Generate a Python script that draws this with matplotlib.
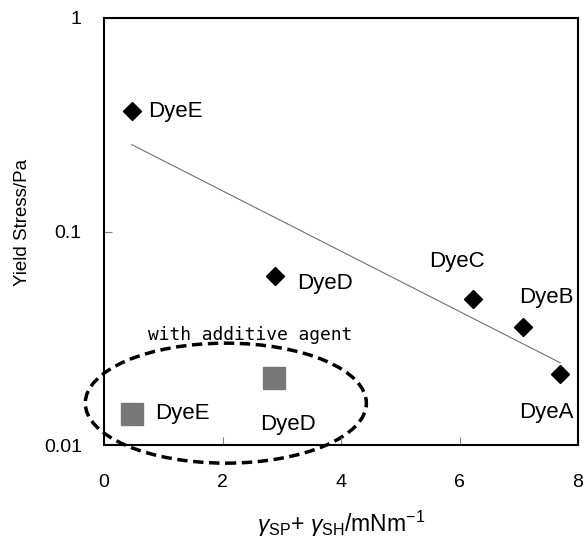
import numpy as np
import matplotlib
matplotlib.use("Agg")
from matplotlib import pyplot as plt
from matplotlib.patches import Ellipse

plt.rcParams['font.family'] = ['Liberation Sans', 'DejaVu Sans']
plt.rcParams['mathtext.fontset'] = 'custom'
plt.rcParams['mathtext.rm'] = 'Liberation Sans'
plt.rcParams['mathtext.it'] = 'Liberation Sans:italic'

# Dyes without additive (black diamonds)
dyes = ['DyeE', 'DyeD', 'DyeC', 'DyeB', 'DyeA']
gamma = np.array([0.47, 2.89, 6.23, 7.07, 7.70])
stress = np.array([0.366, 0.0618, 0.0483, 0.0357, 0.0215])

# With additive agent (gray squares)
add_dyes = ['DyeE', 'DyeD']
add_gamma = np.array([0.47, 2.87])
add_stress = np.array([0.0140, 0.0205])

# label offsets in points (dx, dy, ha)
offs = {'DyeE': (12, 0, 'left'), 'DyeD': (16, -5, 'left'), 'DyeC': (-12, 27, 'center'),
        'DyeB': (17, 21, 'center'), 'DyeA': (-10, -28, 'center')}
add_offs = {'DyeE': (17, 0, 'left'), 'DyeD': (10, -33, 'center')}

# exponential trend line
k, b = np.polyfit(gamma, np.log10(stress), 1)
xs = np.linspace(gamma.min(), gamma.max(), 50)
ys = 10 ** (k * xs + b)

fig = plt.figure(figsize=(5.85, 5.39), dpi=100)
ax = fig.add_axes([104 / 585, 1 - 445 / 539, 474 / 585, 427 / 539])

ax.plot(xs, ys, color='#707070', lw=0.8)
ax.plot(gamma, stress, 'D', color='black', ms=9.5, ls='none')
ax.plot(add_gamma, add_stress, 's', color='#787878', ms=15.5, ls='none')

for name, x, y in zip(dyes, gamma, stress):
    dx, dy, ha = offs[name]
    ax.annotate(name, (x, y), xytext=(dx, dy), textcoords='offset points',
                ha=ha, va='center', fontsize=16)
for name, x, y in zip(add_dyes, add_gamma, add_stress):
    dx, dy, ha = add_offs[name]
    ax.annotate(name, (x, y), xytext=(dx, dy), textcoords='offset points',
                ha=ha, va='center', fontsize=16)

ax.text(0.093, 0.258, 'with additive agent', transform=ax.transAxes,
        fontsize=12.9, family=['DejaVu Sans Mono'], va='center')

ell = Ellipse((0.257, 0.098), 0.593, 0.281, transform=ax.transAxes, fill=False,
              ls=(0, (3, 1.6)), lw=2.5, color='black', clip_on=False)
ax.add_patch(ell)

ax.set_yscale('log')
ax.set_ylim(0.01, 1)
ax.set_xlim(0, 8)
ax.set_yticks([0.01, 0.1, 1])
ax.set_yticklabels(['0.01', '0.1', '1'])
ax.yaxis.set_minor_locator(matplotlib.ticker.NullLocator())
ax.set_xticks([0, 2, 4, 6, 8])
ax.tick_params(direction='in', length=6, width=0.8, color='gray', labelsize=14)
ax.tick_params(axis='y', pad=16)
ax.tick_params(axis='x', pad=21)
for s in ax.spines.values():
    s.set_linewidth(1.5)

ax.set_ylabel('Yield Stress/Pa', fontsize=13.5)
ax.yaxis.set_label_coords(-0.154, 0.522)
ax.set_xlabel(r'$\mathit{\gamma}_{\rm SP}$+ $\mathit{\gamma}_{\rm SH}$/mNm$^{-1}$',
              fontsize=16.5, labelpad=13)

fig.savefig('out.png', dpi=100)
